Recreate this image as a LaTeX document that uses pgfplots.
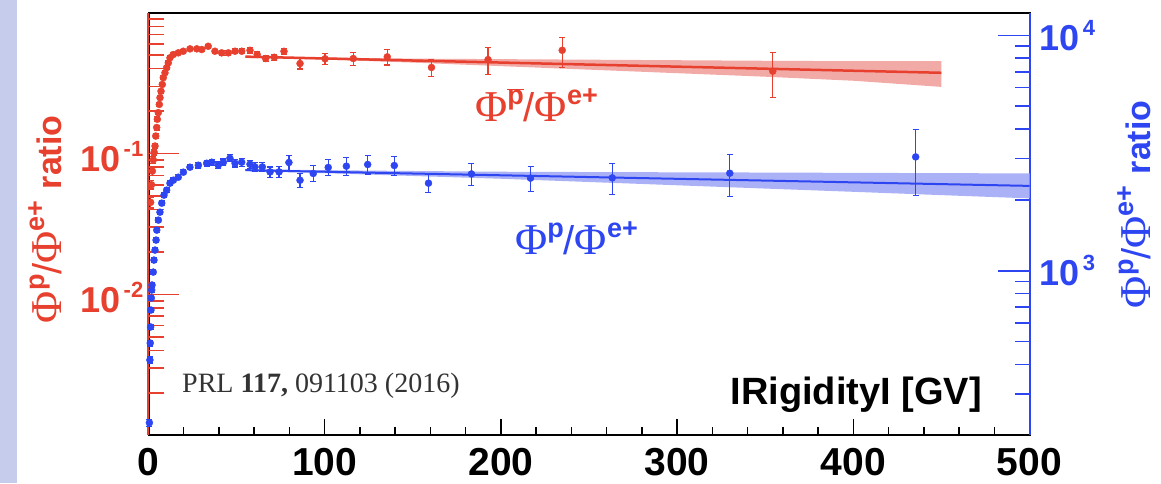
\documentclass[border=0pt]{standalone}
\usepackage{fontspec}
\setmainfont{Liberation Sans}
\newfontfamily\serifphi{Liberation Serif}
\usepackage{pgfplots}
\usepackage{pgfplotstable}
\pgfplotsset{compat=1.18}
\definecolor{cred}{HTML}{E8402F}
\definecolor{cblue}{HTML}{2E46F2}
\definecolor{bandred}{HTML}{F2AAA7}
\definecolor{bandblue}{HTML}{ABB1F6}
\definecolor{lav}{HTML}{C6CCEC}
\newcommand\fs[1]{\fontsize{#1}{#1}\selectfont}
\newcommand\tl[1]{{\bfseries\fs{36pt}10\hspace{3pt}\raisebox{15pt}{\fs{22pt}#1}}}
\newcommand\pbar{$\overline{\hbox{\bfseries\fs{27pt}p}}$}
\newcommand\phiratio[1]{{\serifphi\fs{44pt}Φ}\raisebox{17pt}{\bfseries\fs{27pt}#1}{\fs{40pt}/}{\serifphi\fs{44pt}Φ}\raisebox{17pt}{\bfseries\fs{27pt}e+}}

\pgfplotstableread{
R v e
1.2 0.045 0.004
1.7 0.060 0.004
2.2 0.075 0.005
2.7 0.090 0.005
3.2 0.102 0.005
3.7 0.113 0.005
4.1 0.133 0.006
4.65 0.153 0.006
5.0 0.175 0.007
5.56 0.195 0.007
6.13 0.223 0.008
6.53 0.249 0.008
7.1 0.277 0.009
7.83 0.309 0.010
8.4 0.345 0.011
9.36 0.374 0.012
10.3 0.406 0.012
11.24 0.440 0.013
12.2 0.478 0.014
14.07 0.504 0.014
16.9 0.518 0.015
19.75 0.532 0.015
23.55 0.553 0.016
27.4 0.553 0.016
30.2 0.547 0.017
33.9 0.577 0.018
37.7 0.532 0.018
41.5 0.518 0.019
45.3 0.518 0.020
49.1 0.532 0.021
52.9 0.532 0.022
57.6 0.540 0.023
61.7 0.504 0.024
66.5 0.472 0.024
71.4 0.482 0.025
76.9 0.531 0.027
86.0 0.435 0.037
100.2 0.470 0.040
116.2 0.472 0.050
135.5 0.485 0.060
160.6 0.408 0.055
192.7 0.464 0.100
234.8 0.540 0.130
354.3 0.384 0.135
}\redtab

\pgfplotstableread{
R v e
0.5 226 8
0.8 418 12
1.0 493 14
1.2 577 15
1.4 681 16
1.6 766 18
1.8 828 20
2.0 870 20
2.7 987 22
3.1 1110 25
3.7 1224 27
4.3 1350 30
4.7 1488 32
5.6 1641 35
6.5 1774 38
7.5 1938 40
8.8 2096 45
10.3 2200 45
12.2 2356 50
14.1 2425 55
16.9 2497 60
19.8 2623 65
23.5 2754 70
28.3 2808 75
33.0 2863 80
35.9 2892 85
39.6 2808 90
42.5 2892 95
46.2 3007 100
49.1 2863 105
52.9 2892 110
57.6 2836 115
60.4 2762 120
64.6 2762 125
69.0 2630 130
74.1 2630 140
79.7 2884 210
86.0 2425 160
93.5 2590 200
102.0 2747 215
112.3 2782 245
124.4 2828 250
139.5 2800 260
158.9 2356 200
183.3 2579 280
216.8 2474 300
263.2 2481 380
329.9 2597 525
435.4 3046 950
}\bluetab

% band polygons: upper edge left to right, lower edge right to left
\pgfplotstableread{
R v
55 0.4924
100 0.4796
150 0.4714
200 0.4673
250 0.4633
300 0.4592
350 0.4551
400 0.4520
450 0.4520
450 0.2970
400 0.3284
350 0.3508
300 0.3716
250 0.3937
200 0.4169
150 0.4417
100 0.4643
55 0.4766
}\redband

\pgfplotstableread{
R v
55 2700
100 2675
150 2654
200 2635
250 2627
300 2620
350 2614
400 2606
450 2599
500 2592
500 2030
450 2096
400 2165
350 2235
300 2308
250 2383
200 2460
150 2528
100 2598
55 2650
}\blueband

\pgfplotsset{
  common/.style={at={(0,0)}, anchor=south west, scale only axis,
    width=881pt, height=422.7pt, xmin=0, xmax=500},
}

\begin{document}
\begin{tikzpicture}
\path[use as bounding box] (-148.5pt,-48pt) rectangle (1012.5pt,435.3pt);
\fill[white] (-148.5pt,-48pt) rectangle (1012.5pt,435.3pt);
\fill[lav] (-148.5pt,-48pt) rectangle (-131.5pt,435.3pt);

% x axis and frame
\begin{axis}[common, ymin=0, ymax=1,
  ytick=\empty,
  xtick={0,100,...,500}, minor xtick={20,40,...,480},
  xticklabels={0,100,200,300,400,500},
  xtick pos=left, tick align=inside,
  major tick length=16pt, minor tick length=8pt,
  every tick/.style={black, line width=1.5pt},
  axis line style={black, line width=2pt},
  xticklabel style={font=\bfseries\fs{39pt}, inner sep=0pt, yshift=-13pt},
]
\addplot[draw=none, forget plot] coordinates {(0,0) (500,1)};
\end{axis}

% left axis (red)
\begin{axis}[common, ymode=log, ymin=1e-3, ymax=1,
  axis x line=none, axis y line*=left, clip=false,
  axis line style={-, cred, line width=2pt},
  ytick={0.01,0.1}, yticklabels={\tl{-2},\tl{-1}},
  minor ytick={0.002,0.003,0.004,0.005,0.006,0.007,0.008,0.009,0.02,0.03,0.04,0.05,0.06,0.07,0.08,0.09,0.2,0.3,0.4,0.5,0.6,0.7,0.8,0.9},
  tick align=inside, major tick length=30pt, minor tick length=15pt,
  every tick/.style={cred, line width=1.5pt},
  yticklabel style={text=cred, inner sep=0pt, xshift=-5pt, yshift=-3pt},
]
\addplot[fill=bandred, draw=none] table[x=R, y=v] {\redband} -- cycle;
\addplot[cred, line width=2.5pt] coordinates {(55,0.487) (450,0.374)};
\addplot[cred, only marks, mark=*, mark size=3.5pt, mark options={fill=cred, draw=cred},
  error bars/.cd, y dir=both, y explicit,
  error bar style={cred, line width=1.2pt},
  error mark options={rotate=90, mark size=3pt, line width=1.2pt, cred}]
  table[x=R, y=v, y error=e] {\redtab};
\end{axis}

% right axis (blue)
\begin{axis}[common, ymode=log, ymin=200, ymax=12500,
  axis x line=none, axis y line*=right, clip=false,
  axis line style={-, cblue, line width=2pt},
  ytick={1000,10000}, yticklabels={\tl{3},\tl{4}},
  minor ytick={300,400,500,600,700,800,900,2000,3000,4000,5000,6000,7000,8000,9000},
  tick align=inside, major tick length=32pt, minor tick length=15pt,
  every tick/.style={cblue, line width=1.5pt},
  yticklabel style={text=cblue, inner sep=0pt, xshift=10pt},
]
\addplot[fill=bandblue, draw=none] table[x=R, y=v] {\blueband} -- cycle;
\addplot[cblue, line width=2pt] coordinates {(55,2676) (500,2294)};
\addplot[cblue, only marks, mark=*, mark size=3.5pt, mark options={fill=cblue, draw=cblue},
  error bars/.cd, y dir=both, y explicit,
  error bar style={cblue, line width=1.2pt},
  error mark options={rotate=90, mark size=3pt, line width=1.2pt, cblue}]
  table[x=R, y=v, y error=e] {\bluetab};
\end{axis}

% texts
\node[rotate=90, anchor=base, text=cred, inner sep=0pt] at (-86.5pt,216pt)
  {\phiratio{p}\,{\bfseries\fs{34pt} ratio}};
\node[rotate=90, anchor=base, text=cblue, inner sep=0pt] at (1001.5pt,231pt)
  {\phiratio{p}\,{\bfseries\fs{34pt} ratio}};
\node[anchor=base west, inner sep=0pt, text=cred] at (326.5pt,313.3pt) {\phiratio{\pbar}};
\node[anchor=base west, inner sep=0pt, text=cblue] at (366.5pt,181pt) {\phiratio{p}};
\node[anchor=base west, inner sep=0pt, text=black!80] at (33.5pt,43pt)
  {\serifphi\fs{28pt}PRL \textbf{117,} 091103 (2016)};
\node[anchor=base east, inner sep=0pt] at (833.5pt,31pt) {\bfseries\fs{38pt}IRigidityI [GV]};
\end{tikzpicture}
\end{document}
